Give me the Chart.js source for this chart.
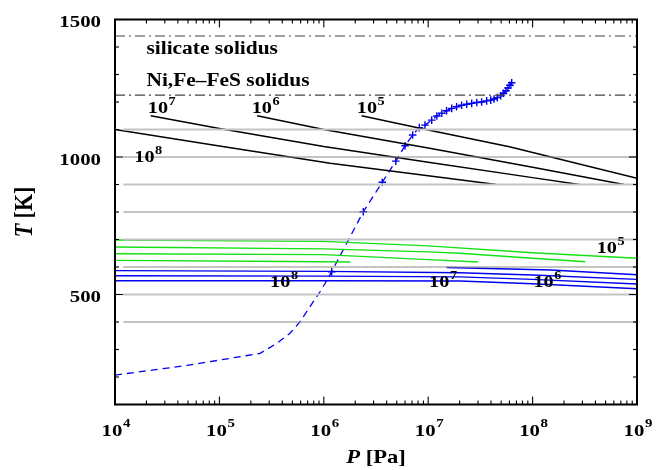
<!DOCTYPE html>
<html>
<head>
<meta charset="utf-8">
<script src="https://cdn.jsdelivr.net/npm/chart.js@4.4.1/dist/chart.umd.min.js"></script>
<style>
  html, body { margin: 0; padding: 0; background: #fff; }
  .probe { font-family: "Liberation Serif"; font-weight: bold; position: absolute; left: -999px; }
</style>
</head>
<body>
<span class="probe">10 <i>P</i></span>
<canvas id="chart" width="661" height="470"></canvas>
<script>
/* ===== Data (P in Pa, T in K) ===== */

// axis ticks
const yTicks = [100, 200, 300, 400, 500, 600, 700, 800, 900, 1000, 1100, 1200, 1300, 1400, 1500];
const yLabels = [500, 1000, 1500];
const xDecades = [1e4, 1e5, 1e6, 1e7, 1e8, 1e9];
const xExponents = ['4', '5', '6', '7', '8', '9'];

// horizontal grey isotherms
const gridT = [400, 500, 600, 700, 800, 900, 1000, 1100];
const gridStartP = 1.2e4;

// solidus levels
const solidusT = [1440, 1225];
const solidusNames = ['silicate solidus', 'Ni,Fe\u2013FeS solidus'];
const solidusTextP = [2.0e4, 2.0e4];
const solidusTextT = [1373, 1258];

// black curves
const black5P = [2.3e6, 1e7, 6e7, 1e9];
const black5T = [1150, 1098, 1037, 923];
const black6P = [2.3e5, 1e6, 1e7, 1e8, 7.5e8];
const black6T = [1150, 1100, 1033, 963, 900];
const black7P = [2.2e4, 1e5, 1e6, 1e7, 1e8, 2.8e8];
const black7T = [1150, 1104, 1038, 981, 925, 900];
const black8P = [1e4, 1e5, 1.15e6, 1e7, 4.5e7];
const black8T = [1100, 1040, 977, 932, 900];

// green curves
const green5P = [1e4, 1e6, 1e7, 1e8, 1e9];
const green5T = [698, 693, 677, 652, 632];
const green6P = [1e4, 1e6, 1e7, 2e7, 1e8, 3.2e8];
const green6T = [673, 666, 655, 650, 632, 619];
const green7P = [1e4, 1e6, 1e7, 3e7];
const green7T = [648, 645, 627, 618];
const green8P = [1e4, 4.7e5, 1.8e6];
const green8T = [624, 620, 618];

// blue curves
const blueAP = [1.5e7, 1.5e8, 1e9];
const blueAT = [598, 589, 572];
const blueBP = [1e4, 1e6, 2e7, 1e8, 1e9];
const blueBT = [587, 584, 579, 571, 555];
const blueCP = [1e4, 1e6, 2e7, 1e8, 1e9];
const blueCT = [568, 567, 564, 555, 538];
const blueDP = [1e4, 1e6, 2e7, 1e8, 1e9];
const blueDT = [550, 550, 549, 539, 521];

// dashed blue path: unmarked lower part, then the marked samples
const pathP = [1e4, 4.9e4, 2.45e5, 3.54e5, 4.74e5, 5.92e5, 7.38e5, 9.2e5, 1.03e6];
const pathT = [207, 242, 286, 322, 359, 401, 456, 510, 541];
const markP = [1.19e6, 2.39e6, 3.63e6, 4.89e6, 6.0e6, 7.1e6, 8.22e6, 9.31e6, 1.08e7, 1.21e7,
  1.35e7, 1.5e7, 1.68e7, 1.87e7, 2.09e7, 2.34e7, 2.61e7, 2.92e7, 3.25e7, 3.63e7, 3.97e7,
  4.27e7, 4.59e7, 4.95e7, 5.25e7, 5.56e7, 5.81e7, 6.07e7, 6.31e7];
const markT = [583, 801, 908, 985, 1041, 1080, 1107, 1116, 1134, 1149,
  1159, 1168, 1177, 1183, 1188, 1192, 1195, 1198, 1200, 1204, 1207,
  1211, 1216, 1223, 1232, 1241, 1251, 1261, 1270];

// curve labels 10^n (position of the left end of the baseline)
const powP = [2.06e4, 2.04e5, 2.07e6, 1.53e4, 3.06e5, 1.02e7, 1.02e8, 4.11e8];
const powT = [1159, 1159, 1159, 983, 528, 528, 528, 650];
const powExp = ['7', '6', '5', '8', '8', '7', '6', '5'];

/* ===== Styling ===== */

const SX = 1.19; // the original lettering is stretched horizontally
const SERIF = '"Liberation Serif", "Times New Roman", serif';
const BLACK = '#000000';
const GREEN = '#14e014';
const BLUE = '#0000f0';

function pts(P, T) {
  return P.map((p, i) => ({ x: p, y: T[i] }));
}

function curve(P, T, color, extra) {
  return Object.assign({
    data: pts(P, T),
    showLine: true,
    borderColor: color,
    backgroundColor: color,
    borderWidth: 1.4,
    pointRadius: 0,
    fill: false,
    tension: 0,
  }, extra || {});
}

const datasets = [];

gridT.forEach(t => {
  const light = (t / 100) % 2 === 1;
  datasets.push(curve([gridStartP, 1e9], [t, t], light ? '#c4c4c4' : '#8a8a8a',
    { borderWidth: light ? 1.8 : 1.1 }));
});

solidusT.forEach(t => {
  datasets.push(curve([1e4, 1e9], [t, t], '#444444', { borderWidth: 1.2, borderDash: [10, 4, 2, 4] }));
});

[[green5P, green5T], [green6P, green6T], [green7P, green7T], [green8P, green8T]].forEach(([P, T]) =>
  datasets.push(curve(P, T, GREEN)));

[[blueAP, blueAT], [blueBP, blueBT], [blueCP, blueCT], [blueDP, blueDT]].forEach(([P, T]) =>
  datasets.push(curve(P, T, BLUE)));

[[black5P, black5T], [black6P, black6T], [black7P, black7T], [black8P, black8T]].forEach(([P, T]) =>
  datasets.push(curve(P, T, BLACK, { borderWidth: 1.5 })));

datasets.push(curve(pathP.concat(markP), pathT.concat(markT), BLUE, { borderWidth: 1.3, borderDash: [7, 5] }));
datasets.push({
  data: pts(markP, markT),
  showLine: false,
  pointStyle: 'cross',
  pointRadius: 3.8,
  pointBorderWidth: 1.4,
  borderColor: BLUE,
  backgroundColor: BLUE,
});

/* ===== Text helpers (stretched serif lettering) ===== */

function drawRuns(ctx, runs, x, y, align) {
  let total = 0;
  runs.forEach(r => {
    ctx.font = r.font;
    r.w = ctx.measureText(r.text).width + (r.gap || 0);
    total += r.w;
  });
  let start = x;
  if (align === 'center') start = x - total * SX / 2;
  if (align === 'right') start = x - total * SX;
  ctx.save();
  ctx.translate(start, y);
  ctx.scale(SX, 1);
  ctx.textAlign = 'left';
  ctx.textBaseline = 'alphabetic';
  let ox = 0;
  runs.forEach(r => {
    ctx.font = r.font;
    ctx.fillText(r.text, ox + (r.gap || 0), -(r.rise || 0));
    ox += r.w;
  });
  ctx.restore();
}

function powerRuns(exp, size, supSize, rise) {
  return [
    { text: '10', font: `bold ${size}px ${SERIF}` },
    { text: exp, font: `bold ${supSize}px ${SERIF}`, rise: rise, gap: 0.5 },
  ];
}

/* ===== Frame: box, inward ticks, labels ===== */

const framePlugin = {
  id: 'frame',
  afterDatasetsDraw(chart) {
    const { ctx, chartArea: a, scales: { x, y } } = chart;
    ctx.save();
    ctx.fillStyle = '#000';
    ctx.strokeStyle = '#000';

    const seg = (x1, y1, x2, y2) => {
      ctx.beginPath();
      ctx.moveTo(x1, y1);
      ctx.lineTo(x2, y2);
      ctx.stroke();
    };

    // y ticks (left and right, pointing inward)
    ctx.lineWidth = 1.1;
    yTicks.forEach(t => {
      const py = y.getPixelForValue(t);
      const len = yLabels.includes(t) ? 8 : 4;
      seg(a.left, py, a.left + len, py);
      seg(a.right, py, a.right - len, py);
    });

    // x ticks (bottom and top)
    xDecades.forEach((d, i) => {
      const px = x.getPixelForValue(d);
      seg(px, a.bottom, px, a.bottom - 8);
      seg(px, a.top, px, a.top + 8);
      if (i < xDecades.length - 1) {
        for (let m = 2; m <= 9; m++) {
          const mx = x.getPixelForValue(d * m);
          seg(mx, a.bottom, mx, a.bottom - 4);
          seg(mx, a.top, mx, a.top + 4);
        }
      }
    });

    // box
    ctx.lineWidth = 2;
    ctx.strokeRect(a.left, a.top, a.right - a.left, a.bottom - a.top);

    // y tick labels
    yLabels.forEach(t => {
      drawRuns(ctx, [{ text: String(t), font: `bold 17.5px ${SERIF}` }],
        a.left - 14, y.getPixelForValue(t) + 7.5, 'right');
    });

    // x tick labels
    xDecades.forEach((d, i) => {
      drawRuns(ctx, powerRuns(xExponents[i], 17.5, 12.5, 9), x.getPixelForValue(d) + 1, a.bottom + 31, 'center');
    });

    // axis titles
    drawRuns(ctx, [
      { text: 'P', font: `italic bold 19px ${SERIF}` },
      { text: ' [Pa]', font: `bold 19px ${SERIF}` },
    ], (a.left + a.right) / 2, 463, 'center');

    ctx.save();
    ctx.translate(31.5, (a.top + a.bottom) / 2);
    ctx.scale(SX, 1);
    ctx.rotate(-Math.PI / 2);
    const tRuns = [
      { text: 'T', font: `italic bold 22px ${SERIF}` },
      { text: ' [K]', font: `bold 22px ${SERIF}` },
    ];
    let tw = 0;
    tRuns.forEach(r => { ctx.font = r.font; r.w = ctx.measureText(r.text).width; tw += r.w; });
    let ox = -tw / 2;
    tRuns.forEach(r => { ctx.font = r.font; ctx.fillText(r.text, ox, 0); ox += r.w; });
    ctx.restore();

    // solidus names
    solidusNames.forEach((name, i) => {
      drawRuns(ctx, [{ text: name, font: `bold 18px ${SERIF}` }],
        x.getPixelForValue(solidusTextP[i]), y.getPixelForValue(solidusTextT[i]), 'left');
    });

    // curve labels
    powExp.forEach((e, i) => {
      drawRuns(ctx, powerRuns(e, 17, 12, 8), x.getPixelForValue(powP[i]), y.getPixelForValue(powT[i]), 'left');
    });

    ctx.restore();
  }
};

/* ===== Chart ===== */

function build() {
  new Chart(document.getElementById('chart').getContext('2d'), {
    type: 'scatter',
    data: { datasets },
    options: {
      responsive: false,
      animation: false,
      devicePixelRatio: 1,
      layout: { padding: { left: 115, right: 24, top: 19.5, bottom: 65.5 } },
      plugins: {
        legend: { display: false },
        tooltip: { enabled: false },
      },
      scales: {
        x: { type: 'logarithmic', min: 1e4, max: 1e9, display: false },
        y: { type: 'linear', min: 100, max: 1500, display: false },
      },
    },
    plugins: [framePlugin],
  });
}

// make sure the serif face is ready before the canvas text is drawn
Promise.all([
  document.fonts.load('bold 18px "Liberation Serif"'),
  document.fonts.load('italic bold 18px "Liberation Serif"'),
]).then(build, build);
</script>
</body>
</html>
